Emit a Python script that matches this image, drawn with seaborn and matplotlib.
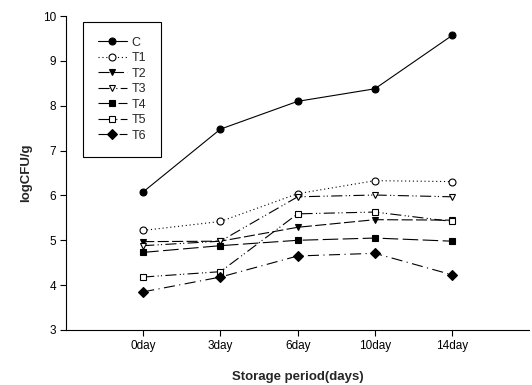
import matplotlib
matplotlib.use("Agg")
import matplotlib.pyplot as plt
import seaborn as sns
import pandas as pd

days = ["0day", "3day", "6day", "10day", "14day"]
series_names = ["C", "T1", "T2", "T3", "T4", "T5", "T6"]
C  = [6.08, 7.48, 8.10, 8.38, 9.57]
T1 = [5.22, 5.42, 6.04, 6.33, 6.31]
T2 = [4.97, 4.98, 5.29, 5.46, 5.45]
T3 = [4.88, 4.98, 5.97, 6.01, 5.97]
T4 = [4.73, 4.88, 5.00, 5.05, 4.98]
T5 = [4.18, 4.30, 5.59, 5.63, 5.42]
T6 = [3.85, 4.18, 4.65, 4.71, 4.23]
values = [C, T1, T2, T3, T4, T5, T6]

markers = ["o", "o", "v", "v", "s", "s", "D"]
filled = [True, False, True, False, True, False, True]
styles = ["-", (0, (1, 2.5)), (0, (10, 3)), (0, (10, 3, 1, 2, 1, 3)),
          (0, (14, 4)), (0, (10, 3, 1, 2, 1, 3)), (0, (10, 4, 1, 4))]

sns.set_style("ticks")
plt.rcParams["font.family"] = ["Liberation Sans", "DejaVu Sans"]

fig = plt.figure(figsize=(5.32, 3.85), dpi=100)
ax = fig.add_axes([0.124, 0.143, 0.871, 0.815])

for name, vals, m, f, ls in zip(series_names, values, markers, filled, styles):
    df = pd.DataFrame({"x": range(len(days)), "y": vals})
    sns.lineplot(data=df, x="x", y="y", ax=ax, color="black", linewidth=0.8,
                 linestyle=ls, marker=m, markersize=5 if m != "D" else 4.6,
                 markerfacecolor="black" if f else "white",
                 markeredgecolor="black", markeredgewidth=0.8, label=name)

ax.set_xlim(-1, 5)
ax.set_ylim(3, 10)
ax.set_xticks(range(len(days)))
ax.set_xticklabels(days)
ax.set_yticks(range(3, 11))
ax.tick_params(axis="both", labelsize=8.5, direction="out", length=4, width=0.8,
               colors="black", pad=3)
for s in ["top", "right"]:
    ax.spines[s].set_visible(False)
for s in ["left", "bottom"]:
    ax.spines[s].set_linewidth(0.8)
    ax.spines[s].set_color("black")
ax.set_xlabel("Storage period(days)", fontsize=9.5, fontweight="bold", labelpad=14)
ax.set_ylabel("logCFU/g", fontsize=9.5, fontweight="bold", labelpad=8)

leg = ax.legend(loc="upper left", bbox_to_anchor=(0.037, 0.982), fontsize=9,
                frameon=True, fancybox=False, edgecolor="black", framealpha=1,
                handlelength=2.3, labelspacing=0.28, borderpad=1.2,
                handletextpad=0.35, borderaxespad=0)
leg.get_frame().set_linewidth(0.8)

fig.savefig("out.png", dpi=100)
